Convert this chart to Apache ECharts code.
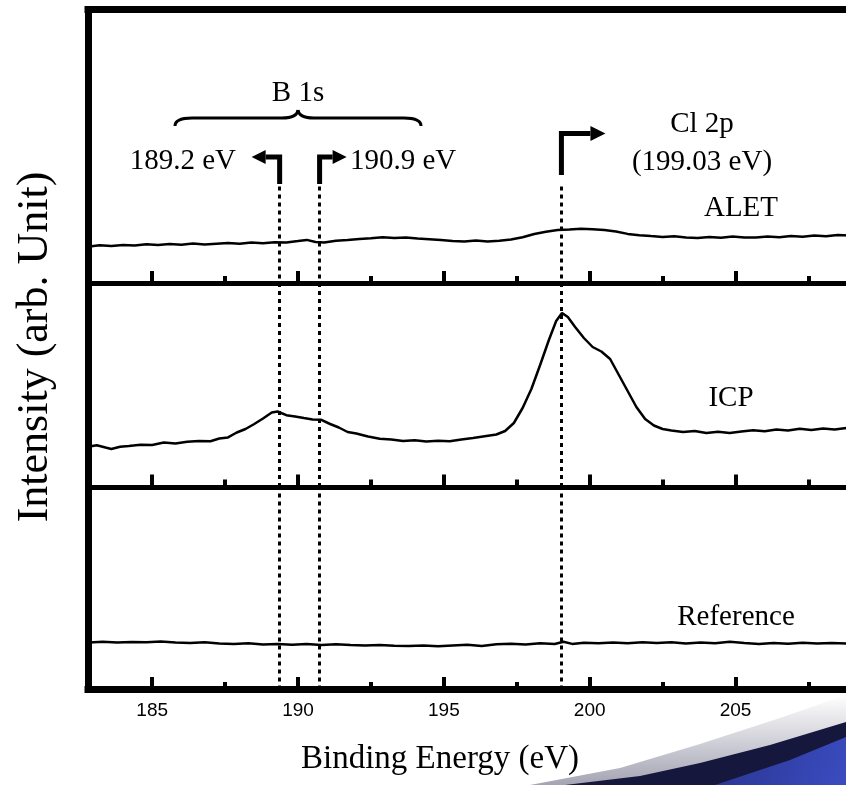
<!DOCTYPE html>
<html><head><meta charset="utf-8">
<script src="https://cdn.jsdelivr.net/npm/echarts@6/dist/echarts.min.js"></script>
<style>html,body{margin:0;padding:0;background:#fff;overflow:hidden;width:846px;height:785px}#c{width:900px;height:785px}</style>
</head><body><div id="c"></div>
<script>
// ---- data (binding energy in eV, intensity in arbitrary units) ----
const aletEnergy = [182.85,183.2,183.6,184.0,184.4,184.8,185.2,185.6,186.0,186.4,186.8,187.2,187.6,188.0,188.4,188.8,189.2,189.6,190.0,190.3,190.6,190.9,191.3,191.7,192.1,192.5,192.9,193.3,193.7,194.1,194.5,194.9,195.3,195.7,196.1,196.5,196.9,197.3,197.7,198.1,198.5,198.9,199.3,199.7,200.1,200.5,200.9,201.3,201.7,202.1,202.5,202.9,203.3,203.7,204.1,204.5,204.9,205.3,205.7,206.1,206.5,206.9,207.3,207.7,208.1,208.5,208.9,209.3];
const aletIntensity = [37.0,38.2,37.5,38.6,38.0,39.2,38.4,39.6,38.8,40.0,39.0,39.8,40.6,39.7,40.9,40.2,41.3,41.0,42.4,43.6,41.5,41.0,42.8,43.5,44.6,45.2,46.3,45.4,46.1,45.0,44.2,43.4,42.6,42.1,43.0,41.9,42.8,44.0,46.2,49.5,51.8,53.6,54.0,54.8,54.2,53.5,52.0,49.6,48.3,47.4,46.6,47.2,46.0,45.5,46.5,45.8,46.9,46.1,46.0,47.0,46.3,47.5,46.8,47.9,47.2,48.5,48.0,48.6];

const icpEnergy = [182.85,183.1,183.4,183.6,183.9,184.2,184.6,185.0,185.4,185.8,186.2,186.6,187.0,187.3,187.6,187.9,188.2,188.5,188.8,189.1,189.3,189.6,189.9,190.2,190.5,190.8,191.1,191.4,191.7,192.0,192.4,192.8,193.2,193.6,194.0,194.4,194.8,195.2,195.6,196.0,196.4,196.8,197.1,197.4,197.7,198.0,198.3,198.6,198.85,199.05,199.25,199.5,199.8,200.1,200.4,200.7,201.0,201.3,201.6,201.9,202.2,202.5,202.8,203.2,203.6,204.0,204.4,204.8,205.2,205.6,206.0,206.4,206.8,207.2,207.6,208.0,208.4,208.8,209.3];
const icpIntensity = [40.5,41.8,39.5,38.0,40.2,41.0,42.3,42.0,44.5,43.6,45.2,46.0,45.8,48.5,49.6,54.5,58.0,63.0,68.5,74.5,75.5,71.8,70.6,69.0,67.5,67.2,63.0,59.5,55.0,53.5,50.5,48.3,47.5,46.0,46.8,45.6,46.2,45.8,47.5,49.0,50.8,52.5,56.0,64.0,79.0,98.0,122.0,147.0,166.0,174.0,170.0,160.0,149.0,140.0,135.5,128.0,112.0,96.0,80.0,68.0,61.5,58.0,56.5,55.0,56.0,54.0,55.2,54.0,55.5,56.8,55.8,57.5,56.6,58.2,57.0,58.5,57.6,59.0,58.4];

const refEnergy = [182.85,183.3,183.8,184.3,184.8,185.3,185.8,186.3,186.8,187.3,187.8,188.3,188.8,189.3,189.8,190.3,190.8,191.3,191.8,192.3,192.8,193.3,193.8,194.3,194.8,195.3,195.8,196.3,196.8,197.3,197.8,198.3,198.8,199.1,199.4,199.8,200.3,200.8,201.3,201.8,202.3,202.8,203.3,203.8,204.3,204.8,205.3,205.8,206.3,206.8,207.3,207.8,208.3,208.8,209.3];
const refIntensity = [47.0,47.8,46.9,47.6,47.2,48.0,47.1,46.4,47.3,46.0,45.4,46.2,45.1,45.6,44.8,45.5,44.6,45.2,44.5,44.0,44.6,43.7,43.4,43.9,43.2,44.0,44.8,43.6,45.2,45.7,45.0,46.2,45.5,47.8,45.6,46.8,46.2,47.0,46.3,47.2,46.5,47.3,46.1,47.0,46.2,47.8,46.4,45.6,46.6,45.8,46.7,45.9,46.5,46.0,46.4];

const majorTicks = [185, 190, 195, 200, 205, 210];
const minorTicks = [187.5, 192.5, 197.5, 202.5, 207.5];
const tickLabels = [185, 190, 195, 200, 205];
const peakMarkers = [189.37, 190.74, 199.03];   // dotted guide positions as drawn
const panelNames = ['ALET', 'ICP', 'Reference'];

// ---- layout ----
const X_MIN = 182.8, X_MAX = 210;
const panels = [
  {top: 9.5, height: 274, line: 5},
  {top: 283.5, height: 203.5, line: 5},
  {top: 487, height: 202.5, line: 7}
];
const GL = 88, GW = 793.4;
const serif = 'Liberation Serif';

const chart = echarts.init(document.getElementById('c'), null, {renderer: 'canvas', width: 900, height: 785});

const grid = panels.map(p => ({left: GL, width: GW, top: p.top, height: p.height, containLabel: false}));
const xAxis = [], yAxis = [];
const majorIdx = [];
panels.forEach((p, i) => {
  majorIdx.push(xAxis.length);
  xAxis.push({
    type: 'value', gridIndex: i, min: X_MIN, max: X_MAX, position: 'bottom',
    axisLine: {show: true, onZero: false, lineStyle: {color: '#000', width: p.line, cap: 'square'}},
    axisTick: {show: true, inside: true, length: 12.5, customValues: majorTicks, lineStyle: {color: '#000', width: 4}},
    axisLabel: {show: i === 2, customValues: tickLabels, margin: 12, color: '#000', fontFamily: 'Liberation Sans', fontSize: 19},
    splitLine: {show: false}
  });
  xAxis.push({
    type: 'value', gridIndex: i, min: X_MIN, max: X_MAX, position: 'bottom',
    axisLine: {show: false, onZero: false},
    axisTick: {show: true, inside: true, length: 7.5, customValues: minorTicks, lineStyle: {color: '#000', width: 4}},
    axisLabel: {show: false}, splitLine: {show: false}
  });
  if (i === 0) {
    xAxis.push({
      type: 'value', gridIndex: 0, min: X_MIN, max: X_MAX, position: 'top',
      axisLine: {show: true, onZero: false, lineStyle: {color: '#000', width: 7, cap: 'square'}},
      axisTick: {show: false}, axisLabel: {show: false}, splitLine: {show: false}
    });
  }
  yAxis.push({
    type: 'value', gridIndex: i, min: 0, max: p.height,
    axisLine: {show: true, onZero: false, lineStyle: {color: '#000', width: 7, cap: 'square'}},
    axisTick: {show: false}, axisLabel: {show: false}, splitLine: {show: false}
  });
});

const seriesData = [
  [aletEnergy, aletIntensity],
  [icpEnergy, icpIntensity],
  [refEnergy, refIntensity]
];
const series = seriesData.map((d, i) => ({
  type: 'line', name: panelNames[i], xAxisIndex: majorIdx[i], yAxisIndex: i,
  data: d[0].map((e, k) => [e, d[1][k]]),
  showSymbol: false, symbol: 'none', clip: true,
  lineStyle: {color: '#000', width: 2.5},
  markLine: {
    silent: true, symbol: ['none', 'none'], label: {show: false}, animation: false,
    lineStyle: {color: '#000', type: [4, 4], width: 3},
    data: i === 0
      ? peakMarkers.map(v => [{coord: [v, 97]}, {coord: [v, 0]}])
      : peakMarkers.map(v => ({xAxis: v}))
  }
}));

chart.setOption({
  animation: false,
  backgroundColor: '#fff',
  grid, xAxis, yAxis, series
});

// ---- annotations ----
const px = v => chart.convertToPixel({xAxisIndex: 0}, v);
const xb1 = px(peakMarkers[0]), xb2 = px(peakMarkers[1]), xcl = px(peakMarkers[2]);
const txt = (text, x, y, size, align, extra) => Object.assign({
  type: 'text', x, y, z: 50,
  style: {text, fontFamily: serif, fontSize: size, fill: '#000', align: align || 'center', verticalAlign: 'middle'}
}, extra || {});
const shaft = pts => ({type: 'polyline', z: 50, shape: {points: pts}, style: {stroke: '#000', lineWidth: 5, fill: null, lineJoin: 'miter', lineCap: 'butt'}});
const head = pts => ({type: 'polygon', z: 50, shape: {points: pts}, style: {fill: '#000'}});
const bz = (x1, y1, cx, cy, x2, y2) => ({type: 'bezierCurve', z: 50, shape: {x1, y1, cpx1: cx, cpy1: cy, x2, y2}, style: {stroke: '#000', lineWidth: 3, fill: null}});
const ln = (x1, y1, x2, y2) => ({type: 'line', z: 50, shape: {x1, y1, x2, y2}, style: {stroke: '#000', lineWidth: 3}});

const graphic = [
  // decorative slide swoosh (bottom right)
  {type: 'polygon', z: -10, shape: {points: [[530,785],[620,768],[700,744],[780,718],[846,695],[846,785]]},
   style: {fill: new echarts.graphic.LinearGradient(0, 0, 0, 1, [{offset: 0, color: '#ffffff'}, {offset: 1, color: '#a4a4b4'}])}},
  {type: 'polygon', z: -9, shape: {points: [[565,785],[640,776],[700,763],[770,745],[846,722],[846,785]]}, style: {fill: '#16173c'}},
  {type: 'polygon', z: -8, shape: {points: [[715,785],[790,760],[846,737],[846,785]]},
   style: {fill: new echarts.graphic.LinearGradient(0, 0, 1, 1, [{offset: 0, color: '#2a3590'}, {offset: 1, color: '#3a4cc0'}])}},

  // brace for B 1s
  bz(175, 126, 175, 118, 192, 118),
  ln(192, 118, 282, 118),
  bz(282, 118, 297, 118, 298, 110),
  bz(298, 110, 299, 118, 314, 118),
  ln(314, 118, 404, 118),
  bz(404, 118, 421, 118, 421, 126),

  txt('B 1s', 298, 93, 29),
  txt('189.2 eV', 236, 161, 29, 'right'),
  txt('190.9 eV', 350, 161, 29, 'left'),
  txt('Cl 2p', 702, 124, 29),
  txt('(199.03 eV)', 702, 162, 29),
  txt('ALET', 741, 208, 29),
  txt('ICP', 731, 398, 29),
  txt('Reference', 736, 617, 29),
  txt('Binding Energy (eV)', 440, 759, 33),
  txt('Intensity (arb. Unit)', 35, 347, 44, 'center', {rotation: Math.PI / 2}),

  // arrows
  shaft([[xb1, 184], [xb1, 157], [xb1 - 14, 157]]),
  head([[xb1 - 14, 150], [xb1 - 14, 164], [xb1 - 28, 157]]),
  shaft([[xb2, 184], [xb2, 157], [xb2 + 13, 157]]),
  head([[xb2 + 13, 150], [xb2 + 13, 164], [xb2 + 27, 157]]),
  shaft([[xcl, 175], [xcl, 133.5], [xcl + 29, 133.5]]),
  head([[xcl + 29, 126], [xcl + 29, 141], [xcl + 44, 133.5]])
];
chart.setOption({graphic});
</script>
</body></html>
